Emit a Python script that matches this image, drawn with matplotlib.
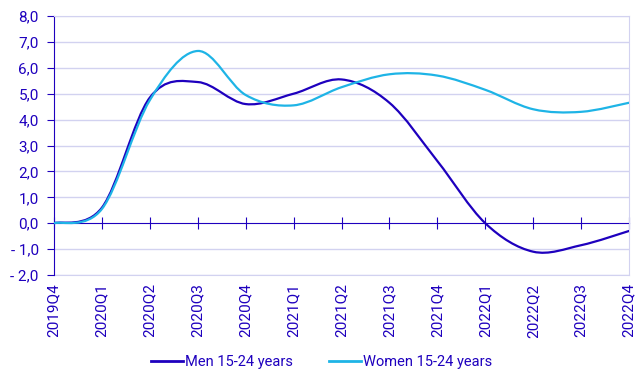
import matplotlib
matplotlib.use("Agg")
import matplotlib.pyplot as plt
from matplotlib.path import Path
from matplotlib.patches import PathPatch
from matplotlib.lines import Line2D
import numpy as np

quarters = ["2019Q4", "2020Q1", "2020Q2", "2020Q3", "2020Q4", "2021Q1", "2021Q2",
            "2021Q3", "2021Q4", "2022Q1", "2022Q2", "2022Q3", "2022Q4"]
men = [0.0, 0.6, 4.85, 5.45, 4.6, 5.0, 5.55, 4.65, 2.4, 0.0, -1.1, -0.85, -0.3]
women = [0.0, 0.55, 4.75, 6.65, 4.95, 4.55, 5.25, 5.75, 5.7, 5.15, 4.4, 4.3, 4.65]
yticks = [-2, -1, 0, 1, 2, 3, 4, 5, 6, 7, 8]

MEN_C = "#1E00BE"
WOMEN_C = "#1EB4E6"
TXT_C = "#1E00BE"
GRID_C = "#D2D2F0"
FONT = "Roboto"


def smooth_path(xs, ys):
    xs = np.asarray(xs, float)
    ys = np.asarray(ys, float)
    n = len(xs)
    verts = [(xs[0], ys[0])]
    codes = [Path.MOVETO]
    for i in range(n - 1):
        p0 = (xs[max(i - 1, 0)], ys[max(i - 1, 0)])
        p1 = (xs[i], ys[i])
        p2 = (xs[i + 1], ys[i + 1])
        p3 = (xs[min(i + 2, n - 1)], ys[min(i + 2, n - 1)])
        c1 = (p1[0] + (p2[0] - p0[0]) / 6, p1[1] + (p2[1] - p0[1]) / 6)
        c2 = (p2[0] - (p3[0] - p1[0]) / 6, p2[1] - (p3[1] - p1[1]) / 6)
        verts += [c1, c2, p2]
        codes += [Path.CURVE4] * 3
    return Path(verts, codes)


fig = plt.figure(figsize=(6.43, 3.85), dpi=100)
ax = fig.add_axes([54 / 643, 1 - 275 / 385, (629 - 54) / 643, (275 - 16) / 385])

x = np.arange(len(quarters))
ax.set_xlim(0, len(quarters) - 1)
ax.set_ylim(-2, 8)

for yv in yticks:
    if yv != 0:
        ax.axhline(yv, color=GRID_C, lw=1, zorder=1)

for series, col, lab in [(men, MEN_C, "Men 15-24 years"), (women, WOMEN_C, "Women 15-24 years")]:
    patch = PathPatch(smooth_path(x, series), facecolor="none", edgecolor=col, lw=1.6,
                      zorder=3, capstyle="round", joinstyle="round")
    ax.add_patch(patch)

# spines
for s in ["top", "right"]:
    ax.spines[s].set_color(GRID_C)
ax.spines["left"].set_color(TXT_C)
ax.spines["bottom"].set_position(("data", 0))
ax.spines["bottom"].set_color(TXT_C)
ax.spines["bottom"].set_zorder(2)

ax.set_xticks(x)
ax.tick_params(axis="x", direction="inout", length=9, color=TXT_C, labelbottom=False)
ax.set_yticks(yticks)
ax.set_yticklabels([("- " + f"{abs(v):.1f}" if v < 0 else f"{v:.1f}").replace(".", ",") for v in yticks],
                   fontfamily=FONT, fontsize=11, color=TXT_C)
ax.tick_params(axis="y", direction="out", length=5, color=TXT_C, pad=6)

sec = ax.secondary_xaxis(0.0)
sec.set_xticks(x)
sec.set_xticklabels(quarters, rotation=90, fontfamily=FONT, fontsize=11, color=TXT_C)
sec.tick_params(length=0, pad=6)
sec.spines["bottom"].set_color(GRID_C)

handles = [Line2D([], [], color=MEN_C, lw=2), Line2D([], [], color=WOMEN_C, lw=2)]
leg = fig.legend(handles, ["Men 15-24 years", "Women 15-24 years"], loc="center",
                 bbox_to_anchor=(0.5, 1 - 362 / 385), ncol=2, frameon=False,
                 prop={"family": FONT, "size": 10.5}, handlelength=2.2, handletextpad=0.1,
                 columnspacing=2.5)
for t in leg.get_texts():
    t.set_color(TXT_C)

fig.savefig("out.png", dpi=100)
